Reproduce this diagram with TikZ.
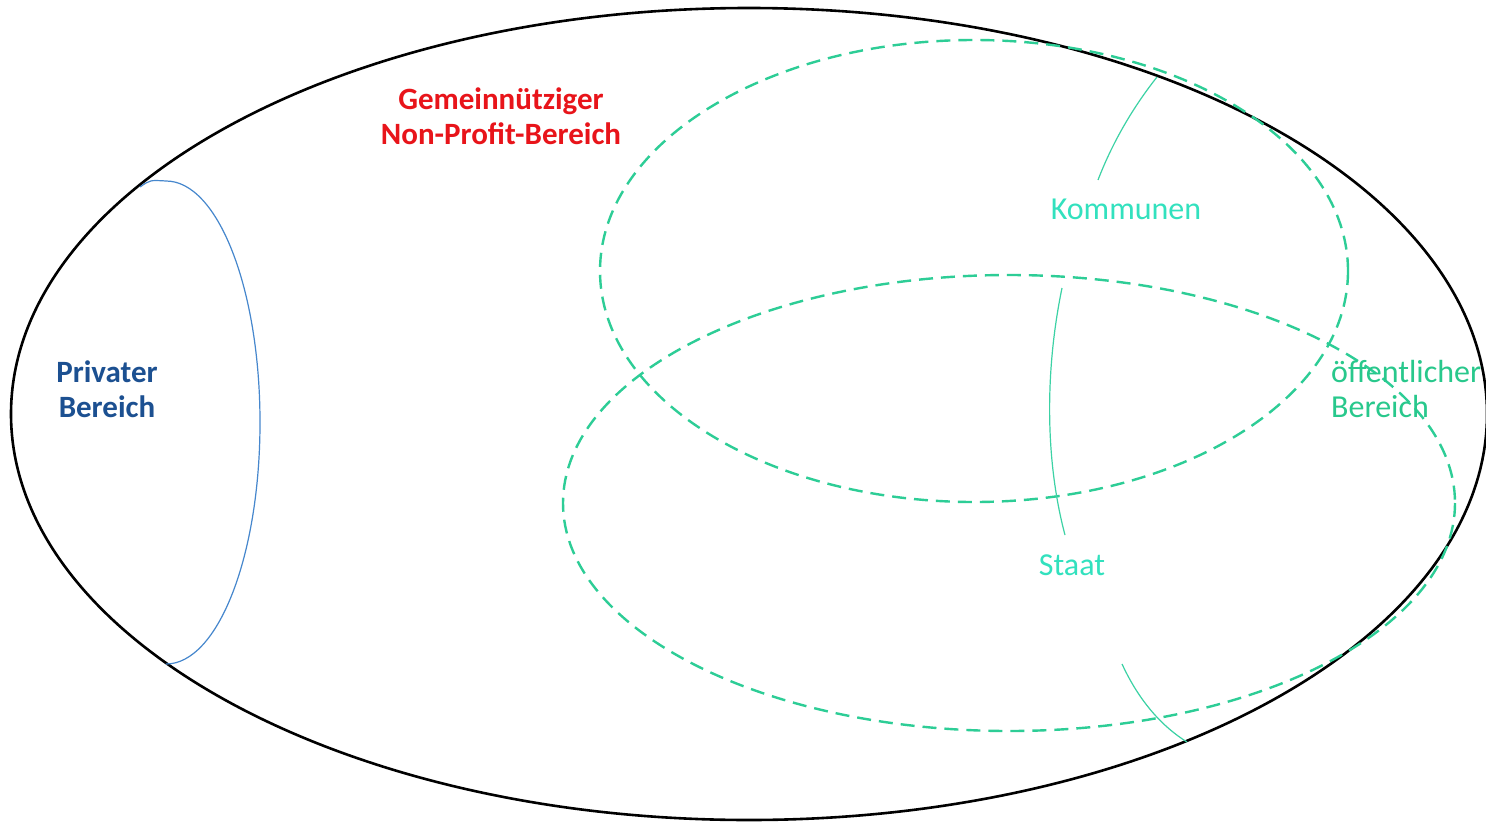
\documentclass[tikz,border=0pt]{standalone}
\usepackage{fontspec}
\setmainfont{Carlito}
\definecolor{npred}{RGB}{232,20,26}
\definecolor{privblue}{RGB}{28,80,145}
\definecolor{arcblue}{RGB}{70,135,205}
\definecolor{dashgreen}{RGB}{45,205,150}
\definecolor{labelteal}{RGB}{50,225,190}
\definecolor{oegreen}{RGB}{40,200,140}
\definecolor{pointer}{RGB}{60,210,165}
\tikzset{
  outer/.style={line width=2.6pt, black},
  dashring/.style={dashgreen, line width=2.4pt, dash pattern=on 14pt off 8pt},
  pointerline/.style={pointer, line width=1.2pt},
  lbl/.style={font=\fontsize{32}{35}\selectfont, inner sep=0pt, align=center},
  boldlbl/.style={lbl, font=\fontsize{31}{35}\selectfont\bfseries},
}
\begin{document}
\begin{tikzpicture}[x=1pt,y=-1pt]
\useasboundingbox (0,0) rectangle (1486,822);
\fill[white] (0,0) rectangle (1486,822);
% outer ellipse
\draw[outer] (749,414) ellipse [x radius=738, y radius=406];
% private arc
\draw[arcblue, line width=1.2pt] (140,187) .. controls (150,180) .. (166,181)
  arc[start angle=-90, end angle=90, x radius=94, y radius=241.5];
% dashed rings
\draw[dashring] (974,271) ellipse [x radius=374, y radius=231];
\draw[dashring] (1009,503) ellipse [x radius=446, y radius=228];
% labels
\node[boldlbl, text=npred] (np) at (501,116) {Gemeinnütziger\\Non-Profit-Bereich};
\node[boldlbl, text=privblue] (priv) at (107,389) {Privater\\Bereich};
\node[lbl, text=labelteal] (komm) at (1126,209) {Kommunen};
\node[lbl, text=labelteal] (staat) at (1072,565) {Staat};
\node[lbl, text=oegreen, align=left, anchor=west] (oe) at (1331,389) {öffentlicher\\Bereich};
% pointer lines
\coordinate (k1) at (1157,77);
\coordinate (k2) at (1098,180);
\coordinate (s1) at (1062,288);
\coordinate (s2) at (1065,535);
\coordinate (l1) at (1122,664);
\coordinate (l2) at (1187,742);
\draw[pointerline] (k1) .. controls (1134,106) and (1113,141) .. (k2);
\draw[pointerline] (s1) .. controls (1045,370) and (1045,460) .. (s2);
\draw[pointerline] (l1) .. controls (1135,692) and (1155,722) .. (l2);
\end{tikzpicture}
\end{document}
